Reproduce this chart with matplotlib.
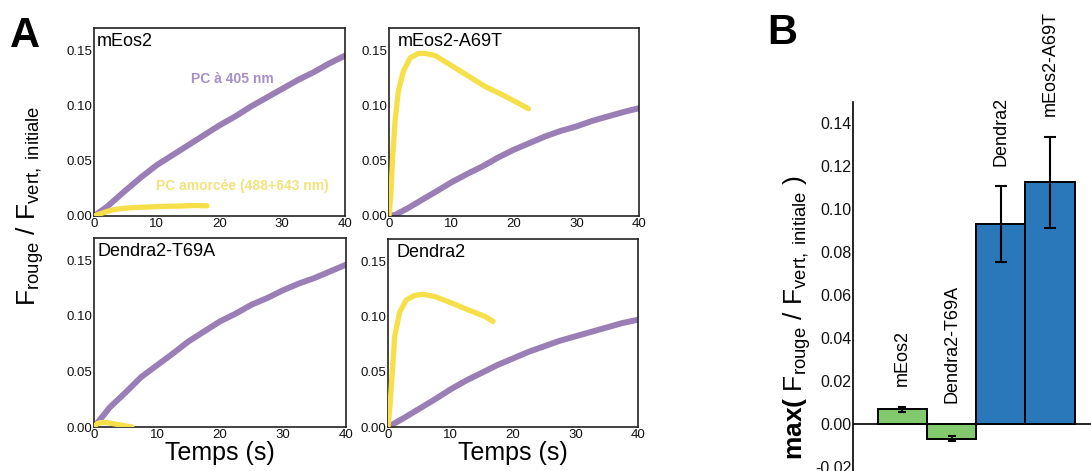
import matplotlib
matplotlib.use("Agg")
import matplotlib.pyplot as plt
import numpy as np

plt.rcParams["font.family"] = ["Liberation Sans", "DejaVu Sans"]
plt.rcParams["mathtext.fontset"] = "custom"
plt.rcParams["mathtext.rm"] = "Liberation Sans"
plt.rcParams["mathtext.it"] = "Liberation Sans:italic"
plt.rcParams["mathtext.bf"] = "Liberation Sans:bold"
plt.rcParams["axes.unicode_minus"] = False

PURPLE = "#9a7fb6"
YELLOW = "#f6df48"
GREEN = "#82c86c"
BLUE = "#2a78b9"

# --- Panel A : cinétiques de photoconversion --------------------------------
panel_names = ["mEos2", "mEos2-A69T", "Dendra2-T69A", "Dendra2"]

# PC à 405 nm (violet)
meos2_405_t = [0, 2, 5, 7.5, 10, 12.5, 15, 17.5, 20, 22.5, 25, 27.5, 30, 32.5, 35, 37.5, 40]
meos2_405_y = [0, 0.008, 0.023, 0.035, 0.046, 0.055, 0.064, 0.073, 0.082, 0.090, 0.099,
               0.107, 0.115, 0.123, 0.130, 0.138, 0.145]
a69t_405_t = [0, 1, 3, 5, 7.5, 10, 12.5, 15, 17.5, 20, 22.5, 25, 27.5, 30, 32.5, 35, 37.5, 40]
a69t_405_y = [0, 0.001, 0.007, 0.0137, 0.022, 0.0305, 0.038, 0.045, 0.053, 0.060, 0.066,
              0.072, 0.077, 0.081, 0.086, 0.090, 0.094, 0.0975]
t69a_405_t = [0, 1, 2.5, 5, 7.5, 10, 12.5, 15, 17.5, 20, 22.5, 25, 27.5, 30, 32.5, 35, 37.5, 40]
t69a_405_y = [0, 0.007, 0.0176, 0.031, 0.045, 0.0555, 0.066, 0.077, 0.086, 0.095, 0.102,
              0.110, 0.116, 0.123, 0.129, 0.134, 0.140, 0.146]
dendra2_405_t = [0, 2.5, 5, 7.5, 10, 12.5, 15, 17.5, 20, 22.5, 25, 27.5, 30, 32.5, 35, 37.5, 40]
dendra2_405_y = [0, 0.008, 0.0165, 0.025, 0.034, 0.042, 0.049, 0.056, 0.062, 0.068, 0.073,
                 0.078, 0.082, 0.086, 0.090, 0.094, 0.097]

# PC amorcée 488+643 nm (jaune)
meos2_pc_t = [0, 1, 2, 3, 4, 6, 8, 10, 12, 14, 16, 18]
meos2_pc_y = [0, 0.002, 0.004, 0.0055, 0.0065, 0.0075, 0.008, 0.0085, 0.0088, 0.009, 0.0095, 0.0092]
a69t_pc_t = [0, 0.3, 0.6, 1, 1.5, 2.3, 3.4, 4.7, 5.8, 7.4, 10, 12.7, 15.4, 18, 20.7, 22.3]
a69t_pc_y = [0, 0.02, 0.055, 0.088, 0.113, 0.131, 0.143, 0.147, 0.147, 0.145, 0.136, 0.1265,
             0.117, 0.110, 0.102, 0.097]
t69a_pc_t = [0, 0.5, 1, 2, 3, 4, 5, 6]
t69a_pc_y = [0, 0.003, 0.004, 0.004, 0.003, 0.002, 0.001, 0]
dendra2_pc_t = [0, 0.27, 0.64, 1.07, 1.87, 2.94, 4.3, 5.6, 7.5, 10.2, 12.8, 15.5, 16.8]
dendra2_pc_y = [0, 0.016, 0.046, 0.082, 0.104, 0.115, 0.119, 0.120, 0.118, 0.112, 0.106,
                0.100, 0.0955]

curves_405 = [(meos2_405_t, meos2_405_y), (a69t_405_t, a69t_405_y),
              (t69a_405_t, t69a_405_y), (dendra2_405_t, dendra2_405_y)]
curves_pc = [(meos2_pc_t, meos2_pc_y), (a69t_pc_t, a69t_pc_y),
             (t69a_pc_t, t69a_pc_y), (dendra2_pc_t, dendra2_pc_y)]

# --- Panel B : maximum du rapport rouge/vert ---------------------------------
proteins_b = ["mEos2", "Dendra2-T69A", "Dendra2", "mEos2-A69T"]
max_ratio = [0.0068, -0.0068, 0.093, 0.1124]
max_err = [0.0013, 0.0013, 0.0175, 0.021]

W, H = 1091, 471
fig = plt.figure(figsize=(W / 100, H / 100), dpi=100)


def px_axes(x0, y0, x1, y1):
    return fig.add_axes([x0 / W, 1 - y1 / H, (x1 - x0) / W, (y1 - y0) / H])


# positions en pixels (gauche, haut, droite, bas)
boxes = [(94, 28, 345, 216), (389, 28, 639, 216), (94, 238, 346, 427), (388, 239, 638, 427)]
title_pad = [0.012, 0.036, 0.012, 0.036]

for i, (box, name) in enumerate(zip(boxes, panel_names)):
    ax = px_axes(*box)
    t, y = curves_405[i]
    ax.plot(t, y, color=PURPLE, lw=4.3, solid_capstyle="round", solid_joinstyle="round", zorder=2)
    t, y = curves_pc[i]
    ax.plot(t, y, color=YELLOW, lw=3.8, solid_capstyle="round", solid_joinstyle="round", zorder=3)
    ax.set_xlim(0, 40)
    ax.set_ylim(0, 0.17)
    ax.set_xticks([0, 10, 20, 30, 40])
    ax.set_yticks([0, 0.05, 0.10, 0.15])
    ax.yaxis.set_major_formatter("{x:.2f}")
    ax.tick_params(length=0, pad=1.5, labelsize=9.5, colors="#111")
    for s in ax.spines.values():
        s.set_linewidth(1.2)
        s.set_color("#222")
    ax.text(title_pad[i], 0.975, name, transform=ax.transAxes, ha="left", va="top", fontsize=13)
    if i >= 2:
        ax.set_xlabel("Temps (s)", fontsize=18, labelpad=0)
    if i == 0:
        ax.text(22.1, 0.124, "PC à 405 nm", color="#a690c6", fontsize=10,
                fontweight="bold", ha="center", va="center")
        ax.text(23.7, 0.027, "PC amorcée (488+643 nm)", color="#f3e27c", fontsize=10,
                fontweight="bold", ha="center", va="center")

fig.text(30 / W, 1 - 206 / H, r"$\mathregular{F_{rouge}\ /\ F_{vert,\ initiale}}$",
         rotation=90, ha="center", va="center", fontsize=19)
fig.text(10 / W, 1 - 36 / H, "A", fontsize=30, fontweight="bold", va="center")
fig.text(767 / W, 1 - 33 / H, "B", fontsize=30, fontweight="bold", va="center")

# --- Panel B -----------------------------------------------------------------
axb = px_axes(853, 102, W, H)
xb = np.arange(len(proteins_b))
colors_b = [GREEN, GREEN, BLUE, BLUE]
axb.bar(xb, max_ratio, width=1.0, color=colors_b, edgecolor="black", linewidth=1.4, zorder=2)
caps = [3, 3, 4.5, 4.5]
for xi, v, e, c in zip(xb, max_ratio, max_err, caps):
    axb.errorbar(xi, v, yerr=e, color="black", lw=1.5, capsize=c, capthick=1.5, zorder=4)
    top = max(v + e, 0)
    axb.annotate(proteins_b[xi], (xi, top), xytext=(0, 15), textcoords="offset points",
                 rotation=90, ha="center", va="bottom", fontsize=13)
axb.axhline(0, color="black", lw=1.2, zorder=3)
axb.set_xlim(-1.0, 3.83)
axb.set_ylim(-0.0219, 0.1498)
axb.set_yticks(np.arange(-0.02, 0.141, 0.02))
axb.yaxis.set_major_formatter("{x:.2f}")
axb.set_xticks([])
axb.tick_params(axis="y", length=0, pad=1, labelsize=11.5, colors="#111")
for side in ["top", "right", "bottom"]:
    axb.spines[side].set_visible(False)
axb.spines["left"].set_linewidth(1.2)

fig.text(797 / W, 1 - 317 / H,
         r"$\mathbf{max(}\ \mathregular{F_{rouge}\ /\ F_{vert,\ initiale}\ )}$",
         rotation=90, ha="center", va="center", fontsize=19)

fig.savefig("out.png", dpi=100)
